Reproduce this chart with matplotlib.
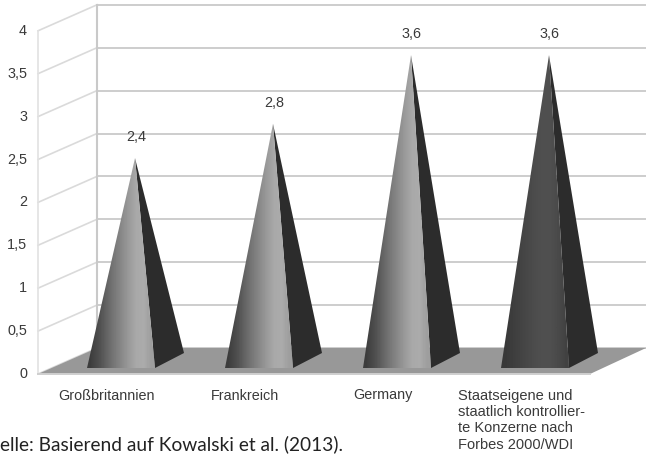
import matplotlib
matplotlib.use('Agg')
import matplotlib.pyplot as plt
import numpy as np
from matplotlib.patches import Polygon

categories = ['Großbritannien', 'Frankreich', 'Germany',
              'Staatseigene und\nstaatlich kontrollier-\nte Konzerne nach\nForbes 2000/WDI']
values = [2.4, 2.8, 3.6, 3.6]
value_labels = ['2,4', '2,8', '3,6', '3,6']
ticks = [0, 0.5, 1, 1.5, 2, 2.5, 3, 3.5, 4]
tick_labels = ['0', '0,5', '1', '1,5', '2', '2,5', '3', '3,5', '4']
source = 'elle: Basierend auf Kowalski et al. (2013).'

W, H = 646, 454
XS, YS = 138.0, 85.8      # pixels per category / per value unit
X0, Y0 = 135.0, 364.0     # where category 0, value 0 falls

plt.rcParams['font.family'] = ['Liberation Sans', 'DejaVu Sans']
fig = plt.figure(figsize=(W / 100, H / 100), dpi=100)
ax = fig.add_axes([0, 0, 1, 1])
ax.axis('off')


def px(dx):
    return dx / XS


def py(dy):
    return dy / YS


# walls: front edge at x=38, back edge at x=97
front_x, back_x = px(38 - X0), px(97 - X0)
right_x = px(W - X0)
front_y, back_y = py(Y0 - 374), py(Y0 - 348)
grid = '#c9c9c9'
text_color = '#3a3a3a'

for t, lab in zip(ticks, tick_labels):
    ax.plot([front_x, back_x], [front_y + t, back_y + t], color='#dadada', lw=1.2, zorder=1)
    ax.plot([back_x, right_x], [back_y + t, back_y + t], color=grid, lw=1.3, zorder=1)
    ax.text(px(27 - X0), front_y + t, lab, ha='right', va='center',
            fontsize=10.4, color=text_color)
ax.plot([front_x, front_x], [front_y, front_y + 4], color='#e2e2e2', lw=1.2, zorder=1)
ax.plot([back_x, back_x], [back_y, back_y + 4], color=grid, lw=1.5, zorder=1)

# floor
floor = Polygon([(front_x, front_y), (back_x, back_y), (right_x, back_y), (px(590 - X0), front_y)],
                closed=True, facecolor='#989898', edgecolor='none', zorder=2)
ax.add_patch(floor)
ax.plot([front_x, px(590 - X0)], [front_y, front_y], color='#cfcfcf', lw=1.4, zorder=2)

# pyramids: gradient front face and a dark side face
base_front = py(-4)
base_back = py(11)
for i, v in enumerate(values):
    left = i - px(48)
    right = i + px(20)
    back = i + px(49)
    side = Polygon([(i, v), (right, base_front), (back, base_back)], closed=True,
                   facecolor='#2c2c2c', edgecolor='none', zorder=3)
    ax.add_patch(side)

    face = Polygon([(i, v), (left, base_front), (right, base_front)], closed=True,
                   facecolor='none', edgecolor='none', zorder=4)
    ax.add_patch(face)
    if i < 3:
        shades = np.array([[0.24, 0.30, 0.38, 0.46, 0.53, 0.60, 0.66, 0.67, 0.62]])
    else:
        shades = np.array([[0.22, 0.24, 0.26, 0.28, 0.30, 0.31, 0.31, 0.29, 0.26]])
    im = ax.imshow(shades, cmap='gray', vmin=0, vmax=1, aspect='auto', interpolation='bilinear',
                   extent=(left, right, base_front, v), zorder=4)
    im.set_clip_path(face)

    ax.text(i + px(1), v + py(21), value_labels[i], ha='center', va='center',
            fontsize=10.4, color=text_color, zorder=5)

label_x = [106.5, 244.5, 383]
for i in range(3):
    ax.text(px(label_x[i] - X0), py(Y0 - 399.5), categories[i], ha='center', va='baseline',
            fontsize=10.4, color=text_color)
ax.text(px(458 - X0), py(Y0 - 389), categories[3], ha='left', va='top',
        fontsize=10.5, color=text_color, linespacing=1.2)

ax.text(px(0 - X0), py(Y0 - 450), source, ha='left', va='baseline', fontsize=13.8,
        color='#222222', family=['Lato', 'DejaVu Sans'])

ax.set_xlim(-X0 / XS, (W - X0) / XS)
ax.set_ylim(-(H - Y0) / YS, Y0 / YS)

fig.savefig('out.png', dpi=100)
